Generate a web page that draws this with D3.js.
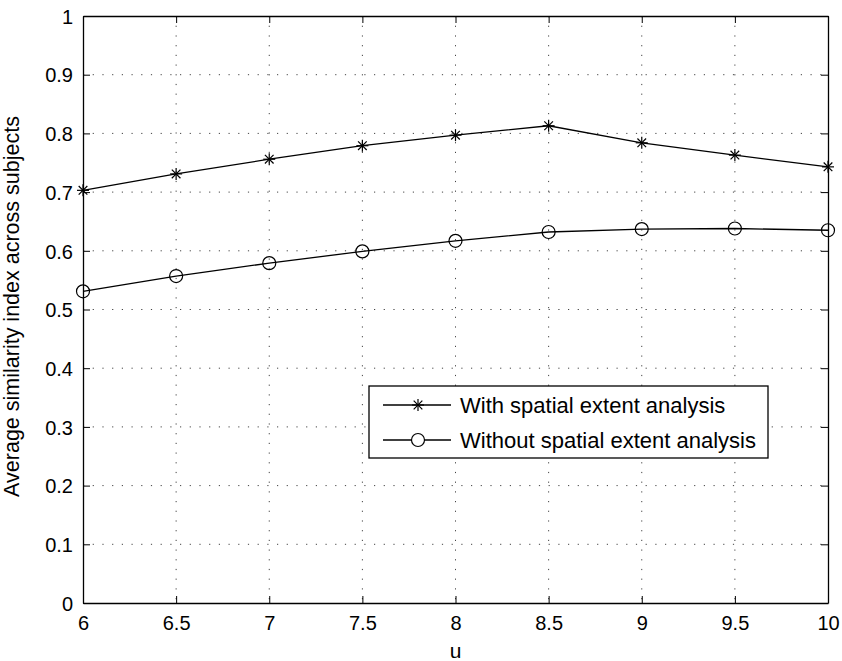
<!DOCTYPE html>
<html>
<head>
<meta charset="utf-8">
<script src="https://cdn.jsdelivr.net/npm/d3@7"></script>
<style>
  body { margin: 0; background: #fff; }
  text { font-family: "Liberation Sans", Arial, Helvetica, sans-serif; fill: #000; }
</style>
</head>
<body>
<div id="chart"></div>
<script>
const uValues = [6, 6.5, 7, 7.5, 8, 8.5, 9, 9.5, 10];
const withSpatial = [0.703, 0.731, 0.756, 0.779, 0.797, 0.813, 0.784, 0.763, 0.743];
const withoutSpatial = [0.531, 0.557, 0.579, 0.599, 0.617, 0.632, 0.637, 0.638, 0.635];
const xTicks = [6, 6.5, 7, 7.5, 8, 8.5, 9, 9.5, 10];
const yTicks = [0, 0.1, 0.2, 0.3, 0.4, 0.5, 0.6, 0.7, 0.8, 0.9, 1];
const seriesNames = ["With spatial extent analysis", "Without spatial extent analysis"];

const width = 842, height = 661;
const margin = { top: 16, right: 14, bottom: 58, left: 83 };
const innerW = width - margin.left - margin.right;
const innerH = height - margin.top - margin.bottom;

const svg = d3.select("#chart")
  .append("svg")
  .attr("width", width)
  .attr("height", height);

const g = svg.append("g")
  .attr("transform", `translate(${margin.left},${margin.top})`);

const x = d3.scaleLinear().domain([6, 10]).range([0, innerW]);
const y = d3.scaleLinear().domain([0, 1]).range([innerH, 0]);

// dotted grid
g.append("g")
  .selectAll("line")
  .data(xTicks.slice(1, -1))
  .join("line")
  .attr("x1", d => x(d)).attr("x2", d => x(d))
  .attr("y1", 0).attr("y2", innerH)
  .attr("stroke", "#444")
  .attr("stroke-dasharray", "1.2,8.5");

g.append("g")
  .selectAll("line")
  .data(yTicks.slice(1, -1))
  .join("line")
  .attr("y1", d => y(d)).attr("y2", d => y(d))
  .attr("x1", 0).attr("x2", innerW)
  .attr("stroke", "#444")
  .attr("stroke-dasharray", "1.2,8.5");

// axes, ticks pointing inward on all four sides
const fmt = d => d3.format("")(+d.toFixed(2));
const xAxis = g.append("g")
  .attr("transform", `translate(0,${innerH})`)
  .call(d3.axisBottom(x).tickValues(xTicks).tickSizeInner(-7).tickSizeOuter(0).tickPadding(13).tickFormat(fmt));
const yAxis = g.append("g")
  .call(d3.axisLeft(y).tickValues(yTicks).tickSizeInner(-7).tickSizeOuter(0).tickPadding(10).tickFormat(fmt));
const xTop = g.append("g")
  .call(d3.axisTop(x).tickValues(xTicks).tickSizeInner(-7).tickSizeOuter(0).tickFormat(""));
const yRight = g.append("g")
  .attr("transform", `translate(${innerW},0)`)
  .call(d3.axisRight(y).tickValues(yTicks).tickSizeInner(-7).tickSizeOuter(0).tickFormat(""));

[xAxis, yAxis, xTop, yRight].forEach(a => {
  a.select(".domain").attr("stroke", "#000").attr("stroke-width", 1.3);
  a.selectAll(".tick line").attr("stroke", "#000");
  a.selectAll(".tick text").style("font-size", "20px").attr("fill", "#000");
});
yAxis.selectAll(".tick text").attr("dy", "0.36em");

// lines
const line = d3.line()
  .x((d, i) => x(uValues[i]))
  .y(d => y(d));

g.append("path")
  .datum(withSpatial)
  .attr("fill", "none")
  .attr("stroke", "#000")
  .attr("stroke-width", 1.3)
  .attr("d", line);

g.append("path")
  .datum(withoutSpatial)
  .attr("fill", "none")
  .attr("stroke", "#000")
  .attr("stroke-width", 1.3)
  .attr("d", line);

function star(sel, r) {
  const a = r * 0.72;
  sel.append("line").attr("x1", -r).attr("x2", r).attr("y1", 0).attr("y2", 0);
  sel.append("line").attr("x1", 0).attr("x2", 0).attr("y1", -r).attr("y2", r);
  sel.append("line").attr("x1", -a).attr("x2", a).attr("y1", -a).attr("y2", a);
  sel.append("line").attr("x1", -a).attr("x2", a).attr("y1", a).attr("y2", -a);
  sel.attr("stroke", "#000").attr("stroke-width", 1.2);
}

g.append("g")
  .selectAll("g")
  .data(withSpatial)
  .join("g")
  .attr("transform", (d, i) => `translate(${x(uValues[i])},${y(d)})`)
  .each(function() { star(d3.select(this), 6); });

g.append("g")
  .selectAll("circle")
  .data(withoutSpatial)
  .join("circle")
  .attr("cx", (d, i) => x(uValues[i]))
  .attr("cy", d => y(d))
  .attr("r", 6.5)
  .attr("fill", "none")
  .attr("stroke", "#000")
  .attr("stroke-width", 1.2);

// axis labels
svg.append("text")
  .attr("x", margin.left + innerW / 2)
  .attr("y", 658)
  .attr("text-anchor", "middle")
  .style("font-size", "21px")
  .text("u");

svg.append("text")
  .attr("transform", `translate(19,${margin.top + innerH / 2 - 3}) rotate(-90)`)
  .attr("text-anchor", "middle")
  .style("font-size", "21.5px")
  .text("Average similarity index across subjects");

// legend
const legend = svg.append("g").attr("transform", "translate(369,386)");
legend.append("rect")
  .attr("width", 399).attr("height", 72)
  .attr("fill", "#fff").attr("stroke", "#000").attr("stroke-width", 1.3);

seriesNames.forEach((name, i) => {
  const row = legend.append("g").attr("transform", `translate(0,${19 + i * 35})`);
  row.append("line")
    .attr("x1", 14).attr("x2", 82).attr("y1", 0).attr("y2", 0)
    .attr("stroke", "#000").attr("stroke-width", 1.3);
  if (i === 0) {
    const m = row.append("g").attr("transform", "translate(49,0)");
    star(m, 6);
  } else {
    row.append("circle").attr("cx", 49).attr("cy", 0).attr("r", 6.5)
      .attr("fill", "#fff").attr("stroke", "#000").attr("stroke-width", 1.2);
  }
  row.append("text")
    .attr("x", 91).attr("y", 0).attr("dy", "0.36em")
    .style("font-size", "22px")
    .text(name);
});
</script>
</body>
</html>
